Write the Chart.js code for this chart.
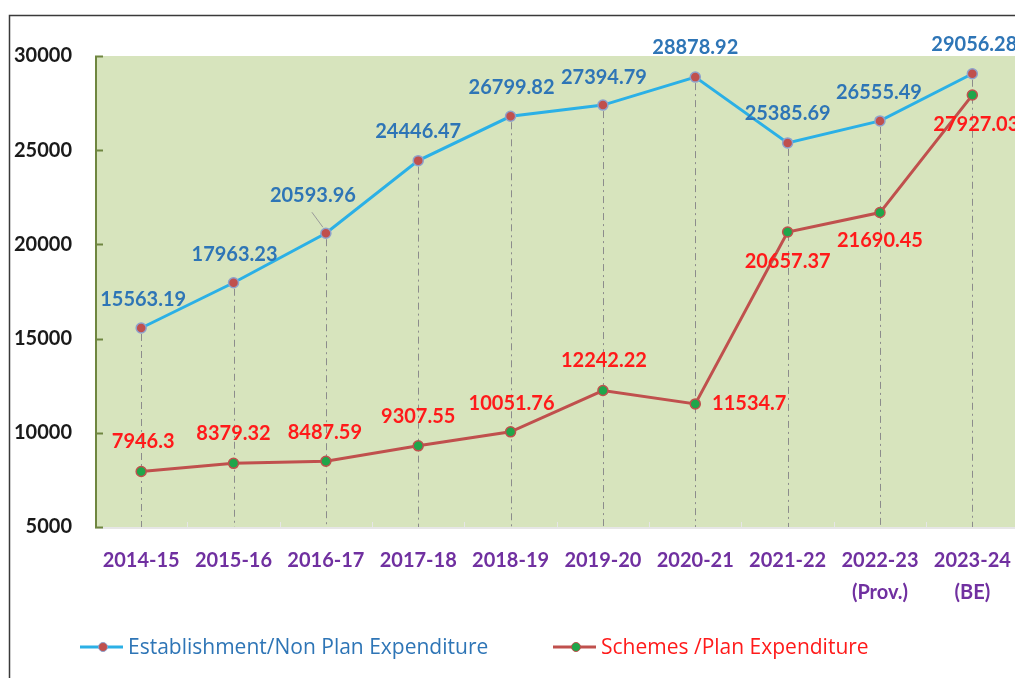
<!DOCTYPE html>
<html>
<head>
<meta charset="utf-8">
<title>Expenditure chart</title>
<script src="https://cdn.jsdelivr.net/npm/chart.js@4.4.1/dist/chart.umd.min.js"></script>
<style>
  html, body { margin: 0; padding: 0; background: #ffffff; overflow: hidden; }
  #chart { position: absolute; left: 0; top: 0; }
</style>
</head>
<body>
<canvas id="chart" width="1025" height="678"></canvas>
<script>
const YEARS = ['2014-15', '2015-16', '2016-17', '2017-18', '2018-19', '2019-20', '2020-21', '2021-22', ['2022-23', '(Prov.)'], ['2023-24', '(BE)']];
const ESTABLISHMENT = [15563.19, 17963.23, 20593.96, 24446.47, 26799.82, 27394.79, 28878.92, 25385.69, 26555.49, 29056.28];
const SCHEMES = [7946.3, 8379.32, 8487.59, 9307.55, 10051.76, 12242.22, 11534.7, 20657.37, 21690.45, 27927.03];
const Y_TICKS = [5000, 10000, 15000, 20000, 25000, 30000];

// where each value label sits relative to its point (dx, dy in px)
const EST_LABEL_POS = [[2, -28], [1, -28], [-13, -38], [0, -29], [1, -29], [1, -28], [0, -30], [0, -29], [-1, -28], [2, -29]];
const SCH_LABEL_POS = [[2, -30], [0, -30], [-1, -29], [0, -29], [1, -28], [1, -30], [54, 0], [0, 30], [0, 28], [4, 29]];

const FONT = 'Lato, "Noto Sans", sans-serif';
const LEGEND_FONT = '"Open Sans", "Noto Sans", sans-serif';
const BLUE_TEXT = '#2E75B6';
const RED_TEXT = '#FF1A1A';

const frame = {
  id: 'frame',
  beforeDraw(chart) {
    const { ctx, chartArea: a } = chart;
    ctx.save();
    ctx.fillStyle = '#D7E4BD';
    ctx.fillRect(a.left, a.top, a.right - a.left, a.bottom - a.top);
    // outer border
    ctx.strokeStyle = '#3a3a3a';
    ctx.lineWidth = 1.5;
    ctx.beginPath();
    ctx.moveTo(9.5, 678);
    ctx.lineTo(9.5, 15.5);
    ctx.lineTo(1025, 15.5);
    ctx.stroke();
    ctx.restore();
  },
  beforeDatasetsDraw(chart) {
    const { ctx, chartArea: a, scales } = chart;
    const x = scales.x, y = scales.y;
    ctx.save();
    // bottom axis
    ctx.strokeStyle = '#E6E6E6';
    ctx.lineWidth = 2;
    ctx.beginPath();
    ctx.moveTo(a.left, a.bottom + 1);
    ctx.lineTo(a.right, a.bottom + 1);
    ctx.stroke();
    ctx.lineWidth = 1;
    for (let i = 1; i < YEARS.length; i++) {
      const bx = Math.round((x.getPixelForTick(i - 1) + x.getPixelForTick(i)) / 2) + 0.5;
      ctx.beginPath();
      ctx.moveTo(bx, a.bottom);
      ctx.lineTo(bx, a.bottom - 5);
      ctx.stroke();
    }
    // left axis with inner ticks
    ctx.strokeStyle = '#6F8640';
    ctx.lineWidth = 2;
    ctx.beginPath();
    ctx.moveTo(a.left + 1, a.top);
    ctx.lineTo(a.left + 1, a.bottom);
    ctx.stroke();
    Y_TICKS.forEach(v => {
      const ty = Math.round(y.getPixelForValue(v)) + 0.5;
      ctx.beginPath();
      ctx.moveTo(a.left, ty);
      ctx.lineTo(a.left + 8, ty);
      ctx.stroke();
    });
    // drop lines
    ctx.strokeStyle = '#8C8C8C';
    ctx.lineWidth = 1;
    ctx.setLineDash([7, 4, 2, 4]);
    ESTABLISHMENT.forEach((v, i) => {
      const px = Math.round(x.getPixelForValue(i)) + 0.5;
      const top = y.getPixelForValue(Math.max(v, SCHEMES[i]));
      ctx.beginPath();
      ctx.moveTo(px, top + 6);
      ctx.lineTo(px, a.bottom);
      ctx.stroke();
    });
    ctx.restore();
  },
  afterDraw(chart) {
    const { ctx, scales } = chart;
    const x = scales.x, y = scales.y;
    ctx.save();
    ctx.font = 'bold 20px ' + FONT;
    ctx.textAlign = 'center';
    ctx.textBaseline = 'middle';
    ESTABLISHMENT.forEach((v, i) => {
      const px = x.getPixelForValue(i), py = y.getPixelForValue(v);
      const [dx, dy] = EST_LABEL_POS[i];
      ctx.fillStyle = BLUE_TEXT;
      ctx.fillText(String(v), px + dx, py + dy);
    });
    // leader line for the shifted label
    {
      const px = x.getPixelForValue(2), py = y.getPixelForValue(ESTABLISHMENT[2]);
      ctx.strokeStyle = '#9a9a9a';
      ctx.lineWidth = 1;
      ctx.beginPath();
      ctx.moveTo(px - 14, py - 21);
      ctx.lineTo(px - 3, py - 6);
      ctx.stroke();
    }
    SCHEMES.forEach((v, i) => {
      const px = x.getPixelForValue(i), py = y.getPixelForValue(v);
      const [dx, dy] = SCH_LABEL_POS[i];
      ctx.fillStyle = RED_TEXT;
      ctx.fillText(String(v), px + dx, py + dy);
    });

    // legend
    const items = [
      { x: 80, ds: chart.data.datasets[0], text: BLUE_TEXT },
      { x: 553, ds: chart.data.datasets[1], text: RED_TEXT }
    ];
    const ly = 647;
    ctx.font = '21px ' + LEGEND_FONT;
    ctx.textAlign = 'left';
    items.forEach(it => {
      ctx.strokeStyle = it.ds.borderColor;
      ctx.lineWidth = 3;
      ctx.beginPath();
      ctx.moveTo(it.x, ly);
      ctx.lineTo(it.x + 43, ly);
      ctx.stroke();
      ctx.fillStyle = it.ds.pointBackgroundColor;
      ctx.strokeStyle = it.ds.pointBorderColor;
      ctx.lineWidth = 1;
      ctx.beginPath();
      ctx.arc(it.x + 23, ly, 4.5, 0, Math.PI * 2);
      ctx.fill();
      ctx.stroke();
      ctx.fillStyle = it.text;
      ctx.fillText(it.ds.label, it.x + 48, ly + 1);
    });
    ctx.restore();
  }
};

new Chart(document.getElementById('chart'), {
  type: 'line',
  data: {
    labels: YEARS,
    datasets: [{
      label: 'Establishment/Non Plan Expenditure',
      data: ESTABLISHMENT,
      borderColor: '#2BB0E6',
      borderWidth: 3,
      pointRadius: 5,
      pointBackgroundColor: '#C0504D',
      pointBorderColor: '#8EA1CC',
      pointBorderWidth: 1.5,
      tension: 0
    }, {
      label: 'Schemes /Plan Expenditure',
      data: SCHEMES,
      borderColor: '#C0504D',
      borderWidth: 3,
      pointRadius: 5,
      pointBackgroundColor: '#1FA64A',
      pointBorderColor: '#C0504D',
      pointBorderWidth: 1.5,
      tension: 0
    }]
  },
  options: {
    responsive: false,
    animation: false,
    layout: { padding: { top: 56, right: 0, left: 0, bottom: 0 } },
    plugins: {
      legend: { display: false },
      tooltip: { enabled: false }
    },
    scales: {
      x: {
        offset: true,
        grid: { display: false, drawTicks: false },
        border: { display: false },
        ticks: {
          color: '#7030A0',
          font: { family: FONT, size: 20, weight: 'bold', lineHeight: 1.6 },
          padding: 18,
          maxRotation: 0,
          autoSkip: false
        },
        afterFit: s => { s.height = 151; s.paddingLeft = 0; s.paddingRight = 0; }
      },
      y: {
        min: 5000,
        max: 30000,
        grid: { display: false, drawTicks: false },
        border: { display: false },
        ticks: {
          stepSize: 5000,
          color: '#1a1a1a',
          padding: 23,
          font: { family: FONT, size: 20, weight: 'bold' },
          callback: v => String(v)
        },
        afterFit: s => { s.width = 95; }
      }
    }
  },
  plugins: [frame]
});
</script>
</body>
</html>
